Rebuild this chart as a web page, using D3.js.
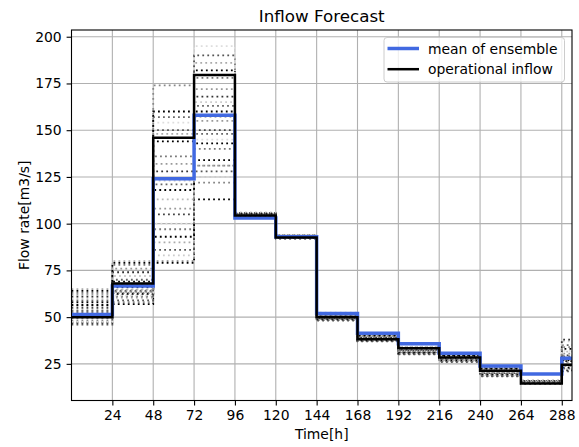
<!DOCTYPE html>
<html>
<head>
<meta charset="utf-8">
<script src="https://cdn.jsdelivr.net/npm/d3@7"></script>
<style>
  body { margin: 0; background: #fff; }
  text { font-family: "DejaVu Sans", sans-serif; fill: #000; }
</style>
</head>
<body>
<div id="chart"></div>
<script>
// block start times (h), last block runs to 294
var blockStarts = [0, 24, 48, 72, 96, 120, 144, 168, 192, 216, 240, 264, 288];
var endTime = 294;
var xTicks = [24, 48, 72, 96, 120, 144, 168, 192, 216, 240, 264, 288];
var yTicks = [25, 50, 75, 100, 125, 150, 175, 200];

var meanEnsemble = [51.4, 66.6, 124, 158, 103, 93, 52, 41.4, 35.7, 30.7, 23.9, 19.6, 28];
var operational = [50, 68, 146, 179.5, 104.3, 92.6, 50, 38.2, 33.4, 28.4, 21.3, 14.5, 24.5];

// ensemble members (one value per block), and their colours
var members = [
  [47, 57, 79, 113, 103.2, 92.2, 48.5, 37.2, 30.2, 26.2, 18.5, 14.6, 21.5],
  [48, 58, 80, 122, 103.5, 92.4, 48.8, 37.5, 30.6, 26.6, 19.0, 14.8, 22.5],
  [49, 60, 83, 125, 103.8, 92.6, 49.2, 37.8, 31.0, 27.0, 19.5, 15.0, 23.5],
  [50, 61, 86, 128, 104.0, 92.8, 49.5, 38.2, 31.3, 27.3, 20.0, 15.1, 24.5],
  [51, 62, 90, 131, 104.2, 93.0, 49.8, 38.5, 31.6, 27.6, 20.4, 15.2, 25.5],
  [52, 62.5, 93, 134, 104.4, 93.1, 50.1, 38.8, 31.9, 27.9, 20.8, 15.3, 26.5],
  [53, 63, 97, 140, 104.6, 93.2, 50.4, 39.1, 32.2, 28.2, 21.2, 15.4, 27.5],
  [54, 63.5, 100, 145, 104.8, 93.3, 50.7, 39.4, 32.5, 28.5, 21.6, 15.5, 28.5],
  [55, 64, 105, 150, 105.0, 93.4, 51.0, 39.7, 32.8, 28.8, 22.0, 15.6, 29.5],
  [56, 64.5, 108, 155, 105.2, 93.5, 51.3, 40.0, 33.1, 29.1, 22.3, 15.7, 30.5],
  [57, 65, 113, 157, 105.4, 93.6, 51.6, 40.3, 33.4, 29.4, 22.6, 15.8, 31.5],
  [58, 66, 118, 160, 105.6, 93.7, 51.9, 40.6, 33.7, 29.7, 22.9, 15.9, 33],
  [59, 70, 121, 163, 105.8, 93.8, 52.2, 40.9, 34.0, 30.0, 23.1, 16.0, 35],
  [60, 72, 123, 165, 106.0, 93.9, 52.4, 41.2, 34.2, 30.2, 23.3, 16.1, 37],
  [61, 74, 128, 168, 105.1, 92.9, 50.2, 38.9, 32.0, 28.0, 21.0, 15.2, 38],
  [62, 76, 132, 172, 104.5, 92.7, 49.6, 38.4, 31.5, 27.5, 20.2, 15.0, 26],
  [63, 78, 136, 178, 104.1, 92.5, 49.0, 37.9, 31.1, 27.1, 19.6, 14.9, 24],
  [64, 79, 144, 182, 103.9, 92.3, 48.7, 37.6, 30.8, 26.8, 19.2, 14.7, 23],
  [65, 80, 148, 186, 103.6, 92.1, 48.4, 37.3, 30.4, 26.4, 18.7, 14.6, 22],
  [46, 59, 150, 190, 103.3, 92.0, 48.2, 37.0, 30.1, 26.1, 18.3, 14.5, 21],
  [47.5, 61.5, 154, 195, 104.3, 93.0, 49.9, 38.6, 31.8, 27.8, 20.6, 15.3, 32],
  [53.5, 67, 157, 148, 104.7, 93.3, 50.6, 39.3, 32.4, 28.4, 21.4, 15.5, 29],
  [56.5, 69, 160, 143, 105.3, 93.6, 51.4, 40.1, 33.2, 29.2, 22.4, 15.8, 27],
  [49.5, 63.5, 174, 131, 104.9, 93.4, 50.9, 39.6, 32.7, 28.7, 21.8, 15.6, 34]
];
var memberColors = ["black", "#888", "#ccc", "#555", "#aaa", "black", "#777", "#ddd",
  "#444", "#999", "#bbb", "black", "#666", "#ccc", "#333", "#999", "#777", "black",
  "#aaa", "#555", "#ddd", "#666", "black", "#888"];

var svgWidth = 579;
var svgHeight = 447;
var margin = { top: 30, right: 7, bottom: 46.5, left: 71.5 };
var width = svgWidth - margin.left - margin.right;
var height = svgHeight - margin.top - margin.bottom;

var svg = d3.select("#chart")
  .append("svg")
  .attr("width", svgWidth)
  .attr("height", svgHeight);

var chartGroup = svg.append("g")
  .attr("transform", `translate(${margin.left}, ${margin.top})`);

var xScale = d3.scaleLinear().domain([0, endTime]).range([0, width]);
var yScale = d3.scaleLinear().domain([5.4, 203.6]).range([height, 0]);

// grid
chartGroup.append("g").selectAll("line").data(xTicks).enter()
  .append("line")
  .attr("x1", d => xScale(d)).attr("x2", d => xScale(d))
  .attr("y1", 0).attr("y2", height)
  .attr("stroke", "#b0b0b0").attr("stroke-width", 1.1);
chartGroup.append("g").selectAll("line").data(yTicks).enter()
  .append("line")
  .attr("x1", 0).attr("x2", width)
  .attr("y1", d => yScale(d)).attr("y2", d => yScale(d))
  .attr("stroke", "#b0b0b0").attr("stroke-width", 1.1);

svg.append("clipPath").attr("id", "clip")
  .append("rect").attr("width", width).attr("height", height);

var plot = chartGroup.append("g").attr("clip-path", "url(#clip)");

function toPoints(vals) {
  var pts = blockStarts.map((t, i) => [t, vals[i]]);
  pts.push([endTime, vals[vals.length - 1]]);
  return pts;
}

var line = d3.line()
  .x(d => xScale(d[0]))
  .y(d => yScale(d[1]))
  .curve(d3.curveStepAfter);

// ensemble members
members.forEach(function(m, i) {
  plot.append("path")
    .attr("d", line(toPoints(m)))
    .attr("fill", "none")
    .attr("stroke", memberColors[i])
    .attr("stroke-width", 1.8)
    .attr("stroke-dasharray", "1.8,3.2");
});

plot.append("path")
  .attr("d", line(toPoints(meanEnsemble)))
  .attr("fill", "none")
  .attr("stroke", "#4169e1")
  .attr("stroke-width", 3.5);

plot.append("path")
  .attr("d", line(toPoints(operational)))
  .attr("fill", "none")
  .attr("stroke", "black")
  .attr("stroke-width", 2.5);

// axes
var bottomAxis = d3.axisBottom(xScale).tickValues(xTicks).tickSize(4.9).tickPadding(4.9);
var leftAxis = d3.axisLeft(yScale).tickValues(yTicks).tickSize(4.9).tickPadding(4.9);

var gx = chartGroup.append("g")
  .attr("transform", `translate(0, ${height})`)
  .call(bottomAxis);
var gy = chartGroup.append("g").call(leftAxis);
[gx, gy].forEach(function(g) {
  g.select(".domain").remove();
  g.selectAll("text").style("font-family", "DejaVu Sans").style("font-size", "13.9px").attr("fill", "#000");
  g.selectAll("line").attr("stroke", "#000").attr("stroke-width", 1.1);
});

// spines
chartGroup.append("rect")
  .attr("width", width).attr("height", height)
  .attr("fill", "none").attr("stroke", "#000").attr("stroke-width", 1.1);

// labels
svg.append("text")
  .attr("x", margin.left + width / 2).attr("y", 22)
  .attr("text-anchor", "middle")
  .style("font-size", "16.7px")
  .text("Inflow Forecast");

svg.append("text")
  .attr("x", margin.left + width / 2).attr("y", 439)
  .attr("text-anchor", "middle")
  .style("font-size", "13.9px")
  .text("Time[h]");

svg.append("text")
  .attr("transform", `translate(28.5, ${margin.top + height / 2}) rotate(-90)`)
  .attr("text-anchor", "middle")
  .style("font-size", "13.9px")
  .text("Flow rate[m3/s]");

// legend
var legend = svg.append("g").attr("transform", "translate(384, 37.5)");
legend.append("rect")
  .attr("width", 180.5).attr("height", 44.5).attr("rx", 3)
  .attr("fill", "white").attr("fill-opacity", 0.8)
  .attr("stroke", "#ccc").attr("stroke-width", 1);
var legendItems = [
  { label: "mean of ensemble", color: "#4169e1", w: 3.5 },
  { label: "operational inflow", color: "black", w: 2.5 }
];
legendItems.forEach(function(d, i) {
  var y = 11 + i * 20.7;
  legend.append("line")
    .attr("x1", 3.5).attr("x2", 35).attr("y1", y).attr("y2", y)
    .attr("stroke", d.color).attr("stroke-width", d.w);
  legend.append("text")
    .attr("x", 44).attr("y", y + 5)
    .style("font-size", "13.9px")
    .text(d.label);
});
</script>
</body>
</html>
